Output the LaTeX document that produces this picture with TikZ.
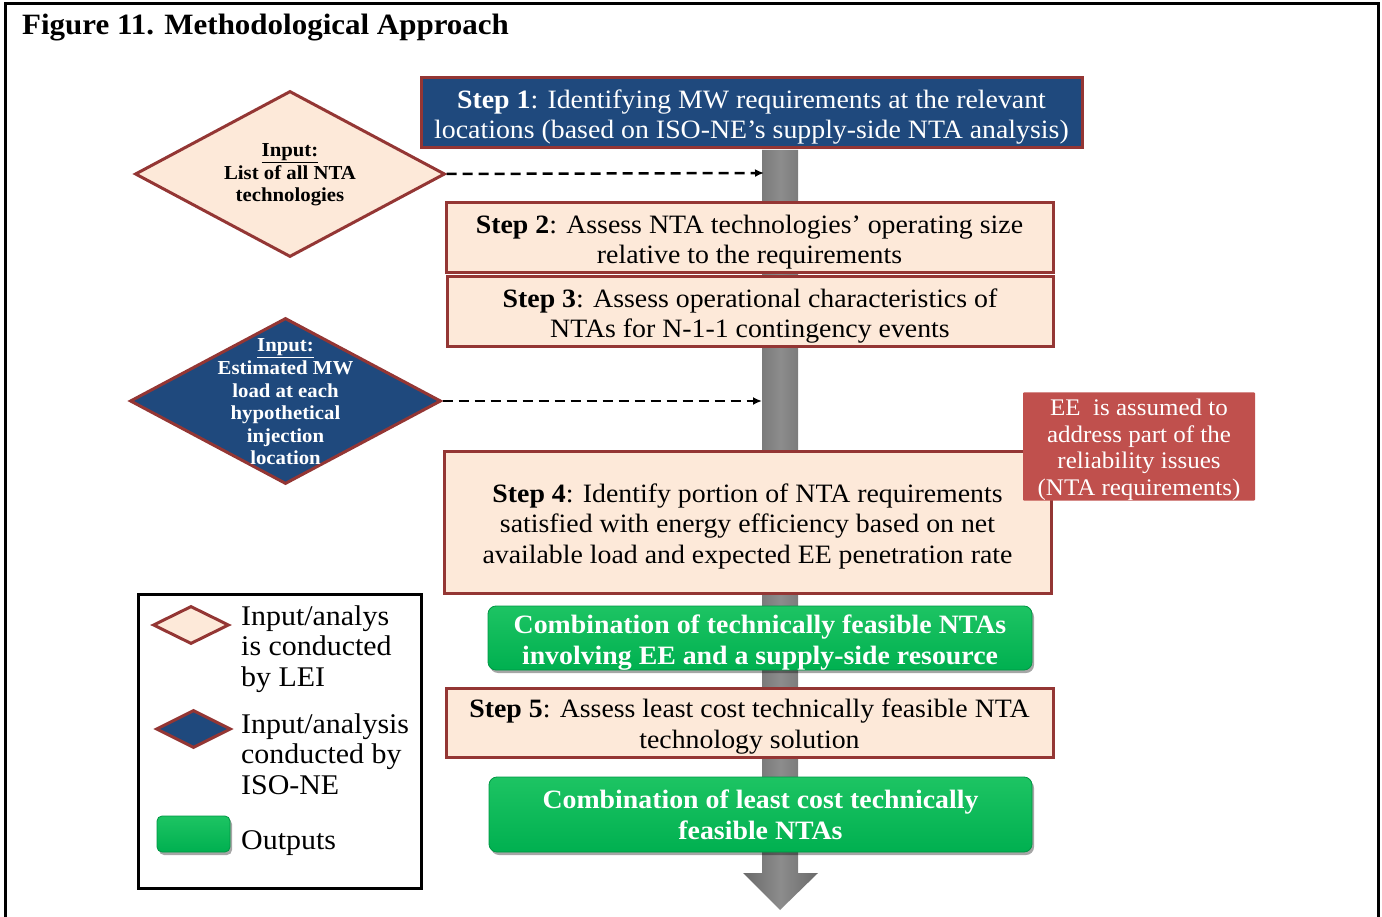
\documentclass[tikz,border=0pt]{standalone}
\usepackage{fontspec}
\setmainfont{Liberation Serif}[FakeStretch=1.05]
\usetikzlibrary{shapes.geometric,arrows.meta,shadows}
\definecolor{dblue}{HTML}{1F497D}
\definecolor{bord}{HTML}{943634}
\definecolor{peach}{HTML}{FDE9D9}
\definecolor{eered}{HTML}{C0504D}
\definecolor{ggreen}{HTML}{00B050}
\definecolor{ggreenl}{HTML}{1DC463}
\definecolor{barmid}{HTML}{8C8C8C}
\definecolor{baredge}{HTML}{6A6A6A}
\newcommand\stepfnt{\fontsize{26.5}{30.5}\selectfont}
\newcommand\dfnt{\fontsize{19.8}{22.6}\selectfont\bfseries}
\newcommand\redfnt{\fontsize{23.8}{26.7}\selectfont}
\newcommand\grfnt{\fontsize{26.5}{31}\selectfont\bfseries}
\newcommand\legfnt{\fontsize{28.5}{30.3}\selectfont}
\newcommand\ustr{\rule{0pt}{27pt}}
\newcommand\rstr{\rule{0pt}{23pt}}
\begin{document}
\begin{tikzpicture}[x=1pt,y=-1pt,
  stepbox/.style={draw=bord,line width=3pt,fill=peach,inner sep=0pt,align=center,font=\stepfnt,text=black},
  bluebox/.style={stepbox,fill=dblue,text=white},
  greenbox/.style={rounded corners=8pt,inner sep=0pt,align=center,font=\grfnt,text=white,
     top color=ggreenl,bottom color=ggreen,draw=ggreen!85!black,line width=0.8pt,
     drop shadow={shadow xshift=2pt,shadow yshift=-3pt,opacity=0.35,fill=black}},
  redbox/.style={fill=eered,inner sep=0pt,align=center,font=\redfnt,text=white,rounded corners=1pt},
  ddiam/.style={diamond,draw=bord,line width=3pt,inner sep=0pt},
  dtext/.style={align=center,font=\dfnt,inner sep=0pt},
  legtext/.style={align=left,font=\legfnt,inner sep=0pt,anchor=west},
  dasharrow/.style={line width=2.5pt,dash pattern=on 10pt off 6pt,-{Latex[length=9pt,width=8pt]}}
]
\useasboundingbox (0,0) rectangle (1382,917);
% frame
\draw[line width=3pt] (5,940) -- (5,4) -- (1378,4) -- (1378,940);
\node[anchor=base west,inner sep=0pt,font=\fontsize{29.5}{32}\selectfont\bfseries] (title) at (22,35) {Figure 11. Methodological Approach};

% gray flow arrow
\shade[left color=baredge,right color=baredge,middle color=barmid]
  (762,150) -- (798,150) -- (798,873) -- (818,873) -- (780,910) -- (743,873) -- (762,873) -- cycle;
\coordinate (bar1) at (764,173);
\coordinate (bar2) at (762,401);

% steps
\node[bluebox,minimum width=661,minimum height=70] (s1) at (751.5,113)
  {\ustr\textbf{Step 1}: Identifying MW requirements at the relevant\\locations (based on ISO-NE's supply-side NTA analysis)};
\node[stepbox,minimum width=607,minimum height=70] (s2) at (749.5,238)
  {\ustr\textbf{Step 2}: Assess NTA technologies' operating size\\relative to the requirements};
\node[stepbox,minimum width=606,minimum height=70] (s3) at (750,312)
  {\ustr\textbf{Step 3}: Assess operational characteristics of\\NTAs for N-1-1 contingency events};
\node[stepbox,minimum width=607,minimum height=142] (s4) at (747.5,522)
  {\ustr\textbf{Step 4}: Identify portion of NTA requirements\\satisfied with energy efficiency based on net\\available load and expected EE penetration rate};
\node[redbox,minimum width=232,minimum height=107] (ee) at (1139,446.5)
  {\rstr EE\ \ is assumed to\\address part of the\\reliability issues\\(NTA requirements)};
\node[greenbox,minimum width=544,minimum height=64] (o1) at (760,638)
  {\ustr Combination of technically feasible NTAs\\involving EE and a supply-side resource};
\node[stepbox,minimum width=607,minimum height=69] (s5) at (749.5,722.5)
  {\ustr\textbf{Step 5}: Assess least cost technically feasible NTA\\technology solution};
\node[greenbox,minimum width=543,minimum height=75] (o2) at (760.5,814.5)
  {Combination of least cost technically\\feasible NTAs};

% inputs
\node[ddiam,fill=peach,minimum width=310,minimum height=166] (d1) at (290,174) {};
\node[dtext,text=black] (d1t) at (290,175) {\underline{Input:}\\List of all NTA\\technologies};
\node[ddiam,fill=dblue,minimum width=311,minimum height=166] (d2) at (285.5,401) {};
\node[dtext,text=white] (d2t) at (285.5,402) {\underline{Input:}\\Estimated MW\\load at each\\hypothetical\\injection\\location};
\draw[dasharrow] (d1.east) -- (bar1);
\draw[dasharrow] (d2.east) -- (bar2);

% legend
\node[draw=black,line width=3pt,minimum width=283,minimum height=294,inner sep=0pt] (leg) at (279.5,741) {};
\node[ddiam,fill=peach,minimum width=76,minimum height=38] (l1) at (191,625) {};
\node[legtext] (l1t) at (241,649) {Input/analys\\is conducted\\by LEI};
\node[ddiam,fill=dblue,minimum width=75,minimum height=38] (l2) at (193.5,729) {};
\node[legtext] (l2t) at (241,754) {Input/analysis\\conducted by\\ISO-NE};
\node[greenbox,minimum width=73,minimum height=36,rounded corners=5pt] (l3) at (193.5,834) {};
\node[legtext] (l3t) at (241,843) {Outputs};
\end{tikzpicture}
\end{document}
